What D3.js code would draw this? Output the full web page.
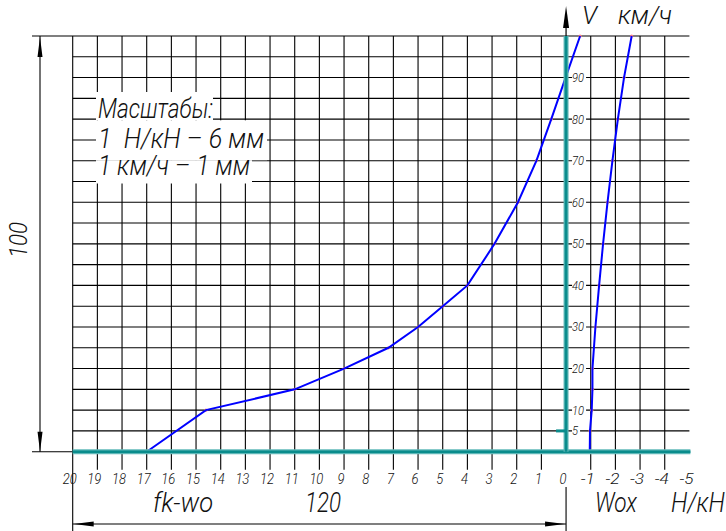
<!DOCTYPE html>
<html>
<head>
<meta charset="utf-8">
<script src="https://cdn.jsdelivr.net/npm/d3@7"></script>
<style>
  body { margin: 0; background: #fff; }
  text {
    font-family: "Roboto", "DejaVu Sans", sans-serif;
    font-weight: 300;
    font-style: italic;
    fill: #111;
  }
</style>
</head>
<body>
<div id="chart"></div>
<script>
// Tractive balance: fk - wo and wox against speed V

// curve fk-wo (H/kH) vs V (km/h)
var fkX = [17, 14.6, 11, 9, 7.2, 6, 5, 4, 2.9, 1.95, 1.2, 0.6, 0.02, -0.57];
var fkV = [0, 10, 15, 20, 25, 30, 35, 40, 50, 60, 70, 80, 90, 100];

// curve wox (H/kH) vs V (km/h)
var woxX = [-0.96, -0.97, -1.04, -1.07, -1.07, -1.19, -1.34, -1.5, -1.68, -1.88, -2.1, -2.35, -2.66];
var woxV = [0, 5, 10, 15, 20, 30, 40, 50, 60, 70, 80, 90, 100];

// tick labels
var xTicks = [20, 19, 18, 17, 16, 15, 14, 13, 12, 11, 10, 9, 8, 7, 6, 5, 4, 3, 2, 1, 0, -1, -2, -3, -4, -5];
var vLabels = [5, 10, 20, 30, 40, 50, 60, 70, 80, 90];

var scaleLines = ["Масштабы:", "1  Н/кН – 6 мм", "1 км/ч – 1 мм"];

var svgWidth = 726;
var svgHeight = 531;

var svg = d3.select("#chart")
  .append("svg")
  .attr("width", svgWidth)
  .attr("height", svgHeight);

var x = d3.scaleLinear().domain([20, -5]).range([72.7, 689.4]);
var y = d3.scaleLinear().domain([0, 100]).range([451.7, 36]);

var teal = "#0a8c8c";

// horizontal grid lines every 5 km/h
var hGrid = y.ticks(20).filter(function(v) { return v > 0; });
svg.append("g")
  .selectAll("line")
  .data(hGrid)
  .enter().append("line")
  .attr("x1", function(v) { return v === 100 ? 32 : x(20); })
  .attr("x2", x(-5))
  .attr("y1", function(v) { return y(v); })
  .attr("y2", function(v) { return y(v); })
  .attr("stroke", "#000")
  .attr("stroke-width", 1.1);

// vertical grid lines
var vGrid = xTicks.filter(function(t) { return t !== 0 && t > -5; });
svg.append("g")
  .selectAll("line")
  .data(vGrid)
  .enter().append("line")
  .attr("x1", function(t) { return x(t); })
  .attr("x2", function(t) { return x(t); })
  .attr("y1", y(100))
  .attr("y2", function(t) { return t === 20 ? 531 : y(0) + 18; })
  .attr("stroke", "#000")
  .attr("stroke-width", 1.1);

// extension line under the zero level and below the 0 tick
svg.append("line")
  .attr("x1", 32).attr("x2", x(20))
  .attr("y1", y(0)).attr("y2", y(0))
  .attr("stroke", "#000").attr("stroke-width", 1.1);
svg.append("line")
  .attr("x1", x(0)).attr("x2", x(0))
  .attr("y1", 487).attr("y2", 531)
  .attr("stroke", "#000").attr("stroke-width", 1.1);

// scale note box (white background hides grid)
var boxes = [
  { x0: 96, x1: 213, y0: 92, y1: 120.3 },
  { x0: 96, x1: 267, y0: 120.3, y1: 160.2 },
  { x0: 96, x1: 252, y0: 160.2, y1: 183.5 }
];
svg.append("g")
  .selectAll("rect")
  .data(boxes)
  .enter().append("rect")
  .attr("x", function(b) { return b.x0; })
  .attr("y", function(b) { return b.y0; })
  .attr("width", function(b) { return b.x1 - b.x0; })
  .attr("height", function(b) { return b.y1 - b.y0; })
  .attr("fill", "#fff");

var noteBase = [118, 148, 175];
var noteWidth = [115, 166, 152];
svg.append("g")
  .selectAll("text")
  .data(scaleLines)
  .enter().append("text")
  .attr("x", 98)
  .attr("y", function(d, i) { return noteBase[i]; })
  .attr("font-size", 28)
  .attr("textLength", function(d, i) { return noteWidth[i]; })
  .attr("lengthAdjust", "spacingAndGlyphs")
  .style("white-space", "pre")
  .text(function(d) { return d; });

// curves
var line = d3.line()
  .x(function(d) { return x(d[0]); })
  .y(function(d) { return y(d[1]); });

var fkData = fkX.map(function(v, i) { return [v, fkV[i]]; });
var woxData = woxX.map(function(v, i) { return [v, woxV[i]]; });

[fkData, woxData].forEach(function(data) {
  svg.append("g")
    .selectAll("circle")
    .data(data)
    .enter().append("circle")
    .attr("cx", function(d) { return x(d[0]); })
    .attr("cy", function(d) { return y(d[1]); })
    .attr("r", 1.6)
    .attr("fill", "#ff8080");
  svg.append("path")
    .datum(data)
    .attr("d", line)
    .attr("fill", "none")
    .attr("stroke", "#0000ff")
    .attr("stroke-width", 2);
});

// teal axes
function tealLine(x1, y1, x2, y2) {
  svg.append("line")
    .attr("x1", x1).attr("y1", y1).attr("x2", x2).attr("y2", y2)
    .attr("stroke", "#5fb8b8").attr("stroke-width", 5);
  svg.append("line")
    .attr("x1", x1).attr("y1", y1).attr("x2", x2).attr("y2", y2)
    .attr("stroke", teal).attr("stroke-width", 2.6);
}
tealLine(x(20), y(0), x(-5) + 1, y(0));
tealLine(x(0), y(100), x(0), y(0));
// little stub at 5 km/h
svg.append("line")
  .attr("x1", x(0) - 10).attr("x2", x(0))
  .attr("y1", y(5)).attr("y2", y(5))
  .attr("stroke", teal).attr("stroke-width", 3);

// V tick labels with white background
var vl = svg.append("g")
  .selectAll("g")
  .data(vLabels)
  .enter().append("g")
  .attr("transform", function(v) { return "translate(" + (x(0) + 6) + "," + y(v) + ")"; });
vl.append("rect")
  .attr("x", 0)
  .attr("y", -6)
  .attr("width", function(v) { return v < 10 ? 8 : 14; })
  .attr("height", 12)
  .attr("fill", "#fff");
vl.append("text")
  .attr("x", 0)
  .attr("y", 4.5)
  .attr("font-size", 13)
  .attr("textLength", function(v) { return v < 10 ? 6 : 12; })
  .attr("lengthAdjust", "spacingAndGlyphs")
  .text(function(v) { return v; });

// x tick labels
svg.append("g")
  .selectAll("text")
  .data(xTicks)
  .enter().append("text")
  .attr("x", function(t) { return x(t) - 3; })
  .attr("y", 484)
  .attr("text-anchor", "middle")
  .attr("font-size", 15)
  .attr("textLength", function(t) { return String(t).length * 7; })
  .attr("lengthAdjust", "spacingAndGlyphs")
  .text(function(t) { return t; });

// arrow on V axis
svg.append("line")
  .attr("x1", x(0)).attr("x2", x(0))
  .attr("y1", 20).attr("y2", y(100))
  .attr("stroke", "#000").attr("stroke-width", 1.2);
function arrowHead(tx, ty, dir, len, w) {
  // dir: "up", "down", "left", "right"
  var p;
  if (dir === "up") p = [[tx, ty], [tx - w / 2, ty + len], [tx + w / 2, ty + len]];
  if (dir === "down") p = [[tx, ty], [tx - w / 2, ty - len], [tx + w / 2, ty - len]];
  if (dir === "left") p = [[tx, ty], [tx + len, ty - w / 2], [tx + len, ty + w / 2]];
  if (dir === "right") p = [[tx, ty], [tx - len, ty - w / 2], [tx - len, ty + w / 2]];
  svg.append("path")
    .attr("d", "M" + p.join("L") + "Z")
    .attr("fill", "#000");
}
arrowHead(x(0), 6, "up", 22, 6);

// left dimension (100)
svg.append("line")
  .attr("x1", 40).attr("x2", 40)
  .attr("y1", y(100)).attr("y2", y(0))
  .attr("stroke", "#000").attr("stroke-width", 1.1);
arrowHead(40, y(100) + 1, "up", 20, 5);
arrowHead(40, y(0), "down", 20, 5);
svg.append("text")
  .attr("transform", "translate(27,240) rotate(-90)")
  .attr("text-anchor", "middle")
  .attr("font-size", 26)
  .attr("textLength", 36)
  .attr("lengthAdjust", "spacingAndGlyphs")
  .text("100");

// bottom dimension (120)
svg.append("line")
  .attr("x1", x(20)).attr("x2", x(0))
  .attr("y1", 524).attr("y2", 524)
  .attr("stroke", "#000").attr("stroke-width", 1.1);
arrowHead(x(20) + 1, 524, "left", 20, 5);
arrowHead(x(0) - 1, 524, "right", 20, 5);

// axis titles
function label(txt, lx, ly, size, len) {
  svg.append("text")
    .attr("x", lx).attr("y", ly)
    .attr("font-size", size)
    .attr("textLength", len)
    .attr("lengthAdjust", "spacingAndGlyphs")
    .text(txt);
}
label("fk-wo", 153, 512, 27, 60);
label("120", 305, 512, 27, 36);
label("Wox", 595, 512, 27, 42);
label("Н/кН", 671, 512, 27, 54);
label("V", 582, 24, 26, 15);
label("км/ч", 618, 24, 26, 54);
</script>
</body>
</html>
